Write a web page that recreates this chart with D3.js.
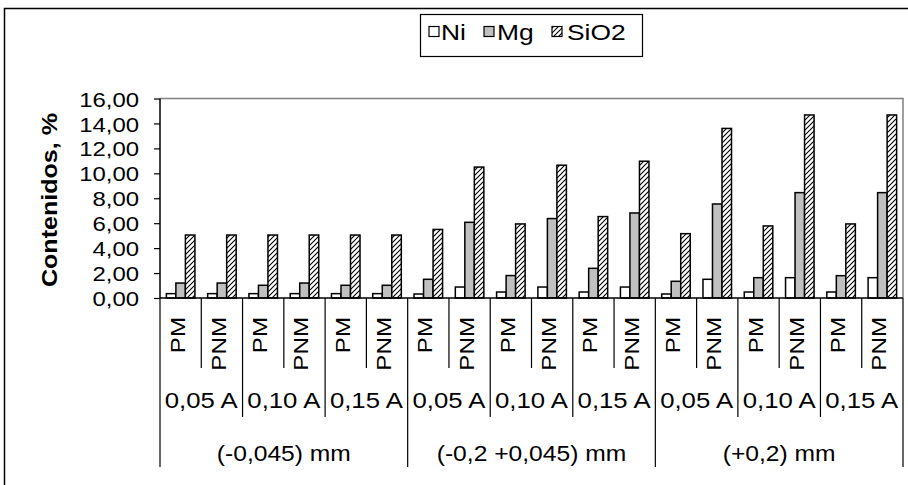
<!DOCTYPE html>
<html><head><meta charset="utf-8">
<script src="https://cdn.jsdelivr.net/npm/d3@7"></script>
<style>
html,body{margin:0;padding:0;background:#fff;}
text{font-family:"Liberation Sans",Arial,sans-serif;fill:#000;}
</style></head>
<body>
<svg id="chart" width="908" height="485"></svg>
<script>
const categories = ["PM","PNM","PM","PNM","PM","PNM","PM","PNM","PM","PNM","PM","PNM","PM","PNM","PM","PNM","PM","PNM"];
const currents = ["0,05 A","0,10 A","0,15 A","0,05 A","0,10 A","0,15 A","0,05 A","0,10 A","0,15 A"];
const fractions = ["(-0,045) mm","(-0,2 +0,045) mm","(+0,2) mm"];
const seriesNames = ["Ni","Mg","SiO2"];
const ni   = [0.35,0.35,0.35,0.35,0.35,0.35, 0.32,0.88,0.48,0.88,0.48,0.88, 0.32,1.50,0.48,1.63,0.48,1.63];
const mg   = [1.20,1.20,1.02,1.20,1.02,1.02, 1.50,6.07,1.80,6.37,2.38,6.82, 1.34,7.54,1.63,8.45,1.79,8.45];
const sio2 = [5.05,5.05,5.05,5.05,5.05,5.05, 5.50,10.50,5.94,10.65,6.53,10.97, 5.16,13.60,5.78,14.68,5.94,14.68];
const yTicks = [0,2,4,6,8,10,12,14,16];

const svg = d3.select("#chart");
const X0 = 160, X1 = 903, Y0 = 298, Y1 = 98.5;

const defs = svg.append("defs");
const pat = defs.append("pattern").attr("id","hatch").attr("patternUnits","userSpaceOnUse")
  .attr("width",5).attr("height",5);
pat.append("rect").attr("width",5).attr("height",5).attr("fill","#fff");
pat.append("path").attr("d","M-1,1 L1,-1 M0,5 L5,0 M4,6 L6,4").attr("stroke","#000").attr("stroke-width",1.1);

const fills = ["#ffffff","#c0c0c0","url(#hatch)"];

// outer frame
svg.append("rect").attr("x",4.5).attr("y",8.5).attr("width",920).attr("height",500)
  .attr("fill","none").attr("stroke","#000").attr("stroke-width",1.5);

const x = d3.scaleBand().domain(d3.range(categories.length)).range([X0,X1]).padding(0);
const xs = d3.scaleBand().domain(d3.range(3)).range([0,x.bandwidth()]).paddingInner(0).paddingOuter(0.67);
const y = d3.scaleLinear().domain([0,16]).range([Y0,Y1]);

// plot area border (grey top & right)
svg.append("path").attr("d",`M${X0},${Y1}H${X1}V${Y0}`).attr("fill","none").attr("stroke","#808080").attr("stroke-width",1.5);

// bars
const series = [ni,mg,sio2];
series.forEach((vals,si)=>{
  svg.append("g").selectAll("rect").data(vals).join("rect")
    .attr("x",(d,i)=>x(i)+xs(si))
    .attr("y",d=>y(d))
    .attr("width",xs.bandwidth())
    .attr("height",d=>Y0-y(d))
    .attr("fill",fills[si])
    .attr("stroke","#000").attr("stroke-width",1.5);
});

// y axis
const yAxis = d3.axisLeft(y).tickValues(yTicks).tickSize(6).tickPadding(0)
  .tickFormat(d=>d3.format(".2f")(d).replace(".",","));
const ya = svg.append("g").attr("transform",`translate(${X0},0)`).call(yAxis);
ya.select(".domain").attr("stroke","#000").attr("stroke-width",1.5).attr("d",`M0,${Y1}V${Y0}`);
ya.selectAll(".tick line").attr("stroke","#000").attr("stroke-width",1.2);
ya.selectAll(".tick text").attr("x",null).attr("dy","0.36em")
  .attr("transform",`translate(-21,0) scale(1.14,1)`)
  .attr("text-anchor","end").style("font-size","21px").style("font-family","'Liberation Sans',Arial,sans-serif");

// y title
svg.append("text").attr("transform",`translate(57,200) rotate(-90) scale(1.14,1)`)
  .attr("text-anchor","middle").style("font-size","22px").style("font-weight","bold")
  .text("Contenidos, %");

// x axis line
svg.append("line").attr("x1",X0).attr("x2",X1).attr("y1",Y0).attr("y2",Y0).attr("stroke","#000").attr("stroke-width",1.5);

// separators
const bounds = d3.range(categories.length+1);
svg.append("g").selectAll("line").data(bounds).join("line")
  .attr("x1",i=> i<categories.length ? x(i) : X1)
  .attr("x2",i=> i<categories.length ? x(i) : X1)
  .attr("y1",Y0)
  .attr("y2",i=> i%6===0 ? 467 : (i%2===0 ? 417 : 368))
  .attr("stroke","#000").attr("stroke-width",1.2);

// category labels (rotated)
svg.append("g").selectAll("text").data(categories).join("text")
  .attr("transform",(d,i)=>`translate(${x(i)+x.bandwidth()/2+4},317) rotate(-90) scale(1.15,1)`)
  .attr("text-anchor","end").style("font-size","21px").text(d=>d);

// current labels
svg.append("g").selectAll("text").data(currents).join("text")
  .attr("transform",(d,i)=>`translate(${x(i*2)+x.bandwidth()},408) scale(1.17,1)`)
  .attr("text-anchor","middle").style("font-size","22px").text(d=>d);

// fraction labels
svg.append("g").selectAll("text").data(fractions).join("text")
  .attr("transform",(d,i)=>`translate(${x(i*6)+3*x.bandwidth()},461) scale(1.12,1)`)
  .attr("text-anchor","middle").style("font-size","22px").text(d=>d);

// legend
const lg = svg.append("g");
lg.append("rect").attr("x",420.5).attr("y",14.5).attr("width",222).attr("height",42)
  .attr("fill","#fff").attr("stroke","#000").attr("stroke-width",1.2);
const legX = [429,484,552];
const legT = [441,497,567];
seriesNames.forEach((n,i)=>{
  lg.append("rect").attr("x",legX[i]).attr("y",26.5).attr("width",10).attr("height",10)
    .attr("fill",fills[i]).attr("stroke","#000").attr("stroke-width",1.2);
  lg.append("text").attr("transform",`translate(${legT[i]},40) scale(1.2,1)`)
    .style("font-size","22px").text(n);
});
</script>
</body></html>
